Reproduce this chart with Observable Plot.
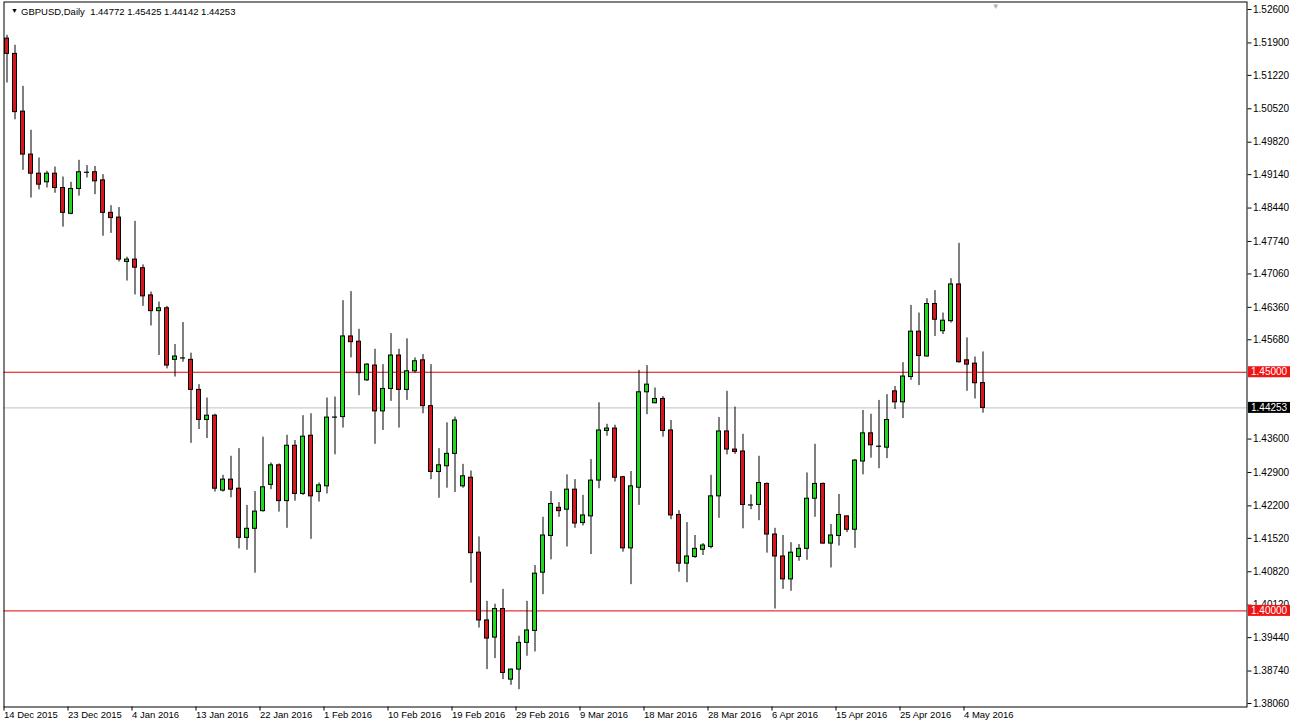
<!DOCTYPE html>
<html><head><meta charset="utf-8">
<script src="https://cdn.jsdelivr.net/npm/d3@7"></script>
<script src="https://cdn.jsdelivr.net/npm/@observablehq/plot@0.6"></script>
<style>
html,body{margin:0;padding:0;background:#fff;}
#chart{position:relative;width:1291px;height:728px;overflow:hidden;}
svg{display:block;}
</style></head><body><div id="chart"></div>
<script>
const symbol = "GBPUSD";
const timeframe = "Daily";
const opens = [1.5199,1.5167,1.5046,1.4956,1.4916,1.4898,1.4916,1.4886,1.4832,1.4884,
1.4919,1.4919,1.4902,1.4834,1.4824,1.4731,1.4736,1.4718,1.4661,1.4628,
1.4634,1.4526,1.4530,1.4526,1.4463,1.4400,1.4409,1.4252,1.4275,1.4256,
1.4153,1.4172,1.4209,1.4264,1.4305,1.4230,1.4346,1.4245,1.4367,1.4249,
1.4261,1.4406,1.4406,1.4575,1.4564,1.4483,1.4514,1.4418,1.4465,1.4535,
1.4463,1.4502,1.4525,1.4429,1.4291,1.4303,1.4329,1.4261,1.4279,1.4122,
1.3980,1.3944,1.4004,1.3856,1.3877,1.3933,1.3958,1.4080,1.4157,1.4216,
1.4212,1.4254,1.4184,1.4198,1.4273,1.4377,1.4382,1.4280,1.4131,1.4258,
1.4458,1.4435,1.4444,1.4378,1.4201,1.4099,1.4113,1.4128,1.4134,1.4240,
1.4376,1.4338,1.4334,1.4222,1.4222,1.4266,1.4160,1.4114,1.4066,1.4113,
1.4130,1.4235,1.4266,1.4141,1.4157,1.4198,1.4170,1.4313,1.4372,1.4345,
1.4342,1.4460,1.4437,1.4490,1.4585,1.4533,1.4643,1.4586,1.4607,1.4684,
1.4525,1.4518,1.44772];
const highs = [1.5206,1.5185,1.5099,1.5007,1.4949,1.4921,1.4930,1.4909,1.4898,1.4944,
1.4933,1.4931,1.4914,1.4849,1.4845,1.4741,1.4816,1.4725,1.4668,1.4647,
1.4638,1.4558,1.4604,1.4540,1.4474,1.4446,1.4412,1.4284,1.4324,1.4340,
1.4221,1.4250,1.4364,1.4310,1.4308,1.4368,1.4357,1.4409,1.4413,1.4268,
1.4446,1.4448,1.4650,1.4669,1.4590,1.4518,1.4548,1.4516,1.4581,1.4548,
1.4570,1.4530,1.4537,1.4516,1.4340,1.4394,1.4406,1.4307,1.4293,1.4155,
1.4020,1.4014,1.4045,1.3878,1.3947,1.4020,1.4095,1.4196,1.4250,1.4227,
1.4285,1.4275,1.4242,1.4317,1.4436,1.4391,1.4389,1.4282,1.4292,1.4504,
1.4514,1.4467,1.4449,1.4399,1.4210,1.4185,1.4158,1.4141,1.4284,1.4405,
1.4460,1.4427,1.4370,1.4243,1.4324,1.4268,1.4173,1.4158,1.4143,1.4139,
1.4289,1.4349,1.4268,1.4181,1.4244,1.4199,1.4317,1.4420,1.4412,1.4441,
1.4453,1.4470,1.4520,1.4640,1.4624,1.4654,1.4671,1.4624,1.4696,1.4770,
1.4572,1.4532,1.45425];
const lows = [1.5106,1.5029,1.4923,1.4865,1.4882,1.4886,1.4875,1.4804,1.4830,1.4869,
1.4907,1.4872,1.4785,1.4791,1.4731,1.4691,1.4662,1.4638,1.4597,1.4535,
1.4507,1.4490,1.4521,1.4351,1.4380,1.4361,1.4249,1.4249,1.4237,1.4130,
1.4127,1.4079,1.4207,1.4254,1.4207,1.4173,1.4230,1.4242,1.4150,1.4228,
1.4245,1.4327,1.4383,1.4530,1.4451,1.4481,1.4349,1.4378,1.4439,1.4383,
1.4441,1.4498,1.4413,1.4275,1.4236,1.4257,1.4248,1.4257,1.4058,1.3964,
1.3877,1.3900,1.3856,1.3844,1.3835,1.3905,1.3914,1.4034,1.4107,1.4196,
1.4134,1.4173,1.4178,1.4118,1.4256,1.4366,1.4270,1.4123,1.4055,1.4221,
1.4411,1.4434,1.4364,1.4191,1.4081,1.4059,1.4110,1.4116,1.4130,1.4194,
1.4327,1.4328,1.4172,1.4212,1.4189,1.4121,1.4004,1.4045,1.4041,1.4104,
1.4106,1.4196,1.4140,1.4090,1.4136,1.4164,1.4131,1.4285,1.4320,1.4298,
1.4319,1.4422,1.4403,1.4483,1.4472,1.4532,1.4575,1.4579,1.4603,1.4519,
1.4460,1.4444,1.44142];
const closes = [1.5167,1.5045,1.4956,1.4916,1.4893,1.4916,1.4886,1.4834,1.4884,1.4919,
1.4919,1.4900,1.4834,1.4823,1.4736,1.4736,1.4719,1.4659,1.4628,1.4634,
1.4514,1.4533,1.4530,1.4463,1.4400,1.4409,1.4256,1.4275,1.4254,1.4153,
1.4172,1.4208,1.4259,1.4305,1.4230,1.4346,1.4245,1.4365,1.4240,1.4263,
1.4405,1.4406,1.4575,1.4563,1.4498,1.4516,1.4418,1.4465,1.4535,1.4463,
1.4502,1.4523,1.4429,1.4291,1.4305,1.4329,1.4399,1.4282,1.4121,1.3980,
1.3942,1.4004,1.3870,1.3877,1.3933,1.3959,1.4078,1.4158,1.4224,1.4209,
1.4254,1.4183,1.4200,1.4273,1.4378,1.4382,1.4279,1.4131,1.4261,1.4458,
1.4474,1.4444,1.4377,1.4200,1.4099,1.4114,1.4130,1.4137,1.4240,1.4376,
1.4338,1.4333,1.4222,1.4222,1.4268,1.4160,1.4114,1.4066,1.4122,1.4130,
1.4235,1.4266,1.4141,1.4158,1.4201,1.4170,1.4315,1.4372,1.4347,1.4345,
1.4400,1.4437,1.4491,1.4585,1.4534,1.4643,1.4610,1.4608,1.4684,1.4521,
1.4516,1.4477,1.44253];
const dateTickIndex = [0,8,16,24,32,40,48,56,64,72,80,88,96,104,112,120];
const dateTickLabels = ["14 Dec 2015","23 Dec 2015","4 Jan 2016","13 Jan 2016","22 Jan 2016","1 Feb 2016","10 Feb 2016","19 Feb 2016","29 Feb 2016","9 Mar 2016","18 Mar 2016","28 Mar 2016","6 Apr 2016","15 Apr 2016","25 Apr 2016","4 May 2016"];
const priceTicks = [1.526,1.519,1.5122,1.5052,1.4982,1.4914,1.4844,1.4774,1.4706,1.4636,1.4568,1.436,1.429,1.422,1.4152,1.4082,1.4012,1.3944,1.3874,1.3806];
const levelLines = [1.45, 1.40];
const bidPrice = 1.44253;

const UP = "#22d622", DOWN = "#d8141c";
const candles = opens.map((o, i) => ({i, o, h: highs[i], l: lows[i], c: closes[i]}));
const last = candles[candles.length - 1];
const fmt = v => v.toFixed(5);
const titleText = `${symbol},${timeframe}  ${fmt(last.o)} ${fmt(last.h)} ${fmt(last.l)} ${fmt(last.c)}`;

const chart = Plot.plot({
  width: 1291,
  height: 728,
  marginLeft: 3.5,
  marginRight: 44.5,
  marginTop: 1.5,
  marginBottom: 21.5,
  style: {fontFamily: "'Liberation Sans', Arial, sans-serif", fontSize: "10px", background: "#fff", color: "#000", overflow: "visible"},
  x: {type: "linear", domain: [-0.375, 155], label: null},
  y: {type: "linear", domain: [1.379865, 1.527571], label: null},
  marks: [
    Plot.ruleY([bidPrice], {stroke: "#c0c0c0", strokeWidth: 1}),
    Plot.ruleY(levelLines, {stroke: "#e00000", strokeWidth: 1}),
    Plot.ruleX(candles, {x: "i", y1: "l", y2: "h", stroke: "#000", strokeWidth: 1}),
    Plot.rect(candles.filter(d => d.o !== d.c), {
      x1: d => d.i - 0.25, x2: d => d.i + 0.25,
      y1: "o", y2: "c",
      fill: d => d.c > d.o ? UP : DOWN,
      stroke: "#000", strokeWidth: 1
    }),
    Plot.ruleY(candles.filter(d => d.o === d.c), {
      y: "o", x1: d => d.i - 0.3125, x2: d => d.i + 0.3125, stroke: "#000", strokeWidth: 1.2
    }),
    Plot.frame({stroke: "#000"}),
    Plot.axisY(priceTicks, {
      anchor: "right", tickSize: 4, tickPadding: 2, textAnchor: "start", label: null,
      tickFormat: d => d.toFixed(5), fontSize: 10
    }),
    Plot.axisX(dateTickIndex, {
      anchor: "bottom", tickSize: 4, tickPadding: 0, textAnchor: "start", dx: -3, label: null,
      tickFormat: d => dateTickLabels[dateTickIndex.indexOf(d)], fontSize: 9.5
    }),
    Plot.text(["\u25BC"], {frameAnchor: "top-left", dx: 7, dy: 6, fontSize: 7, textAnchor: "start", lineAnchor: "top", fill: "#000"}),
    Plot.text([titleText], {frameAnchor: "top-left", dx: 17, dy: 6, fontSize: 9.5, textAnchor: "start", lineAnchor: "top", fill: "#000"}),
    Plot.text(["\u25BC"], {x: () => candles.length + 0.6, frameAnchor: "top", dy: 1, fontSize: 8, lineAnchor: "top", fill: "#b0b0b0"})
  ]
});

// price label boxes on the right axis, positioned with the chart's own y scale
const ys = chart.scale("y");
const svg = d3.select(chart);
const boxes = [[levelLines[0], "#f01414"], [bidPrice, "#000"], [levelLines[1], "#f01414"]];
for (const [v, col] of boxes) {
  const y = ys.apply(v);
  const g = svg.append("g").attr("text-anchor", "start");
  g.append("rect").attr("x", 1248).attr("y", y - 5.5).attr("width", 42).attr("height", 11).attr("fill", col);
  g.append("text").attr("x", 1251).attr("y", y).attr("dy", "0.35em")
    .attr("text-anchor", "start")
    .attr("fill", "#fff").attr("font-size", 10)
    .attr("font-family", "'Liberation Sans', Arial, sans-serif").text(fmt(v));
}
document.getElementById("chart").appendChild(chart);
</script></body></html>
